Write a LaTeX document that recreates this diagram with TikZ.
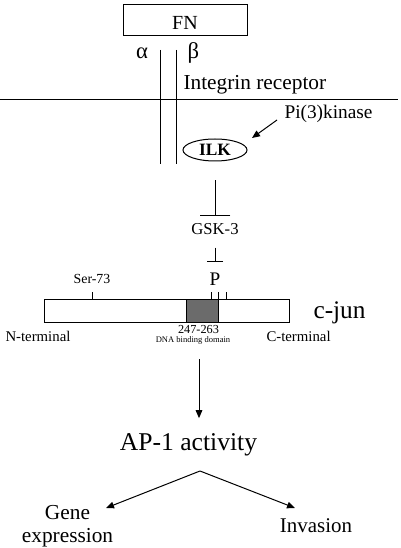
\documentclass[tikz,border=0pt]{standalone}
\usepackage{fontspec}
\setmainfont{Liberation Serif}
\usetikzlibrary{arrows.meta,shapes.geometric,calc}

\tikzset{every picture/.style={line width=0.75pt}}

\begin{document}
\begin{tikzpicture}[x=0.75pt,y=0.75pt,yscale=-1,xscale=1,
  lbl/.style={inner sep=0pt,anchor=base},
  fwd/.style={-{Triangle[length=6pt,width=5pt]}},
  block/.style={-{Bar[width=#1]}},
  fsz/.style={font=\fontsize{#1}{#1}\selectfont}]
\useasboundingbox (0,0) rectangle (400,548);

%Shape: FN box
\node[draw,minimum width=93pt,minimum height=23.5pt,text height=14pt,text depth=0pt,inner sep=0pt,fsz=15] (fn) at (185,20) {FN};

% Text Node
\node[lbl,fsz=17] (alpha) at (142,59) {α};
% Text Node
\node[lbl,fsz=17] (beta) at (193.5,59) {β};

%Straight Lines: receptor chains
\draw (160,50) -- (160,164);
\draw (176,50) -- (176,164);
%Straight Lines: membrane
\draw (0,100) -- (398,100);

% Text Node
\node[lbl,anchor=base west,fsz=16] (integrin) at (183,90) {Integrin receptor};
% Text Node
\node[lbl,anchor=base west,fsz=14.5] (pi3k) at (284,119) {Pi(3)kinase};

%Shape: Ellipse
\node[draw,ellipse,minimum width=48pt,minimum height=16.5pt,inner sep=0pt,font=\fontsize{13}{13}\selectfont\bfseries] (ilk) at (215,150) {ILK};
\coordinate (ilkin) at (252,138);
\draw[fwd] (pi3k.base west) ++(-7,1) -- (ilkin);

% Text Node
\node[lbl,fsz=12.5] (gsk) at (215,235) {GSK-3};
\draw[block=23pt,shorten <=14.25pt,shorten >=5.6pt] (ilk) -- (gsk);

% Text Node
\node[lbl,fsz=14.4] (phos) at (215,286) {P};
\draw[block=12pt,shorten <=9pt,shorten >=8.5pt] (gsk) -- (phos);

%Shape: c-jun bar
\node[draw,minimum width=183.75pt,minimum height=17.25pt,inner sep=0pt] (cjunbar) at (166.5,310.5) {};
\draw[fill=black!58] (186,299) rectangle (218,322);
\foreach \tx in {92,211,218,226}
  \draw (\tx,292) -- (\tx,299);

% Text Node
\node[lbl,fsz=10.4] (ser) at (92,283) {Ser-73};
% Text Node
\node[lbl,anchor=base west,fsz=19] (cjun) at (313,318) {c-jun};
% Text Node
\node[lbl,anchor=base west,fsz=11.1] (nterm) at (5,341) {N-terminal};
% Text Node
\node[lbl,anchor=base west,fsz=11.1] (cterm) at (266,341) {C-terminal};
% Text Node
\node[lbl,fsz=9.2] (range) at (198.5,333) {247-263};
% Text Node
\node[lbl,fsz=6.4] (dbd) at (193,342.7) {DNA binding domain};

% Text Node
\node[lbl,fsz=19.2] (ap1) at (188.5,450) {AP-1 activity};
\coordinate (cjunout) at (199,359);
\draw[fwd,shorten >=10.8pt] (cjunout) -- (cjunout |- ap1.north);

% Text Node
\node[inner sep=0pt,align=center,font=\fontsize{16}{17}\selectfont] (gene) at (67.5,526) {Gene\\expression};
% Text Node
\node[lbl,fsz=15.7] (invasion) at (316,532) {Invasion};

\coordinate (split) at (200,471);
\coordinate (genetip) at (106,508);
\coordinate (invtip) at (295,508);
\draw[fwd] (split) -- (genetip);
\draw[fwd] (split) -- (invtip);

\end{tikzpicture}
\end{document}
